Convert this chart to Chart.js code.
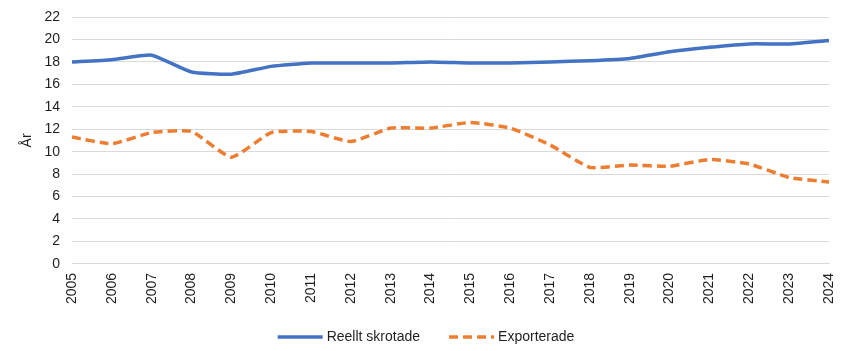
<!DOCTYPE html>
<html>
<head>
<meta charset="utf-8">
<script src="https://cdn.jsdelivr.net/npm/chart.js@4/dist/chart.umd.min.js"></script>
<style>
html,body{margin:0;padding:0;background:#fff;}
#wrap{width:848px;height:351px;}
</style>
</head>
<body>
<div id="wrap"><canvas id="c" width="848" height="351"></canvas></div>
<script>
const years = ["2005","2006","2007","2008","2009","2010","2011","2012","2013","2014","2015","2016","2017","2018","2019","2020","2021","2022","2023","2024"];
const reelltSkrotade = [18.0,18.2,18.6,17.1,16.9,17.6,17.9,17.9,17.9,18.0,17.9,17.9,18.0,18.1,18.3,18.9,19.3,19.6,19.6,19.9];
const exporterade = [11.3,10.7,11.7,11.8,9.5,11.7,11.8,10.9,12.1,12.1,12.6,12.1,10.6,8.6,8.8,8.7,9.3,8.9,7.7,7.3];
const yTicks = [0,2,4,6,8,10,12,14,16,18,20,22];

const fontFamily = "'Liberation Sans', Arial, sans-serif";
const font = {family: fontFamily, size: 14};
const textColor = '#1f1f1f';

const bottomLegend = {
  id: 'bottomLegend',
  afterDraw(chart) {
    const ctx = chart.ctx;
    const ds = chart.data.datasets;
    const sample = 45, gapText = 4, gapItem = 29;
    ctx.save();
    ctx.font = '14px ' + fontFamily;
    const widths = ds.map(d => sample + gapText + ctx.measureText(d.label).width);
    const total = widths.reduce((a, b) => a + b, 0) + gapItem * (ds.length - 1);
    let x = chart.width / 2 + 2 - total / 2;
    const y = 337;
    ds.forEach((d, i) => {
      ctx.beginPath();
      ctx.strokeStyle = d.borderColor;
      ctx.lineWidth = 3.5;
      ctx.setLineDash(d.borderDash || []);
      ctx.moveTo(x, y);
      ctx.lineTo(x + sample, y);
      ctx.stroke();
      ctx.setLineDash([]);
      ctx.fillStyle = textColor;
      ctx.textBaseline = 'middle';
      ctx.textAlign = 'left';
      ctx.fillText(d.label, x + sample + gapText, y);
      x += widths[i] + gapItem;
    });
    ctx.restore();
  }
};

new Chart(document.getElementById('c'), {
  type: 'line',
  data: {
    labels: years,
    datasets: [
      {label: 'Reellt skrotade', data: reelltSkrotade, borderColor: '#4472C4', backgroundColor: '#4472C4', borderWidth: 3.5, pointRadius: 0, tension: 0.15, fill: false},
      {label: 'Exporterade', data: exporterade, borderColor: '#ED7D31', backgroundColor: '#ED7D31', borderWidth: 3.5, borderDash: [9,5], pointRadius: 0, tension: 0.15, fill: false}
    ]
  },
  plugins: [bottomLegend],
  options: {
    responsive: false,
    animation: false,
    layout: {padding: {left: 19, right: 19, top: 17, bottom: 38}},
    plugins: {
      legend: {display: false},
      tooltip: {enabled: false}
    },
    scales: {
      x: {
        offset: false,
        afterFit: (s) => { s.paddingLeft = 0; s.paddingRight = 0; },
        grid: {display: false, drawTicks: false},
        border: {display: true, color: '#d9d9d9'},
        ticks: {color: textColor, font: font, minRotation: 90, maxRotation: 90, autoSkip: false, padding: 9}
      },
      y: {
        min: 0, max: 22,
        afterBuildTicks: (ax) => { ax.ticks = yTicks.map(v => ({value: v})); },
        afterFit: (s) => { s.width = 53; s.paddingTop = 0; s.paddingBottom = 0; },
        grid: {color: '#d9d9d9', drawTicks: false},
        border: {display: false},
        ticks: {color: textColor, font: font, padding: 12},
        title: {display: true, text: 'År', color: textColor, font: font, padding: {top: 0, bottom: 0}}
      }
    }
  }
});
</script>
</body>
</html>
